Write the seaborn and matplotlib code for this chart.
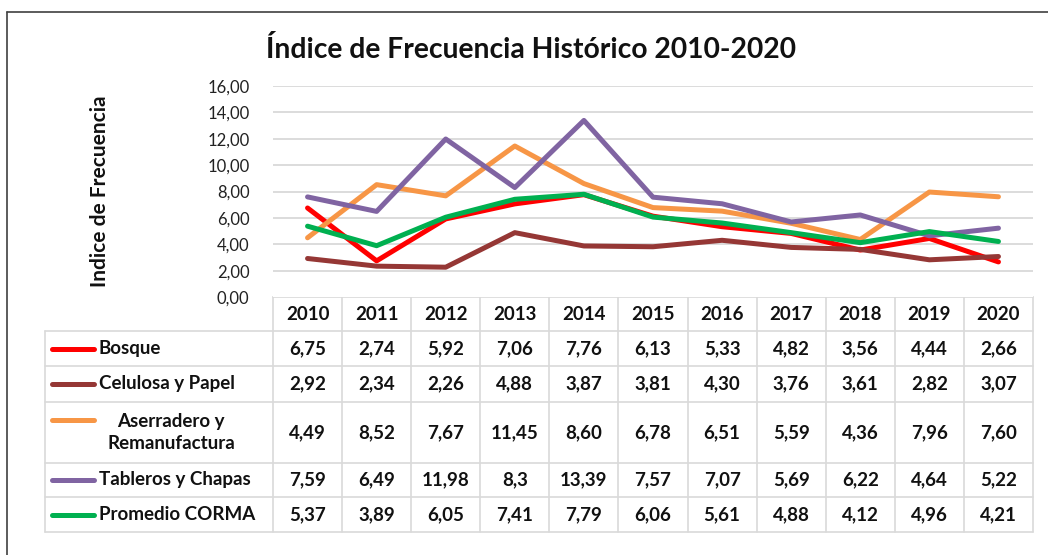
import matplotlib.pyplot as plt
import matplotlib.lines as mlines
import seaborn as sns
import pandas as pd

# ---------------------------------------------------------------------------
# Data
# ---------------------------------------------------------------------------
years = [2010, 2011, 2012, 2013, 2014, 2015, 2016, 2017, 2018, 2019, 2020]
series_names = ["Bosque", "Celulosa y Papel", "Aserradero y\nRemanufactura",
                "Tableros y Chapas", "Promedio CORMA"]
bosque = [6.75, 2.74, 5.92, 7.06, 7.76, 6.13, 5.33, 4.82, 3.56, 4.44, 2.66]
celulosa = [2.92, 2.34, 2.26, 4.88, 3.87, 3.81, 4.30, 3.76, 3.61, 2.82, 3.07]
aserradero = [4.49, 8.52, 7.67, 11.45, 8.60, 6.78, 6.51, 5.59, 4.36, 7.96, 7.60]
tableros = [7.59, 6.49, 11.98, 8.3, 13.39, 7.57, 7.07, 5.69, 6.22, 4.64, 5.22]
promedio = [5.37, 3.89, 6.05, 7.41, 7.79, 6.06, 5.61, 4.88, 4.12, 4.96, 4.21]
# how each value is printed in the data table (as in the source)
tableros_text = ["7,59", "6,49", "11,98", "8,3", "13,39", "7,57", "7,07",
                 "5,69", "6,22", "4,64", "5,22"]
y_ticks = [0, 2, 4, 6, 8, 10, 12, 14, 16]

colors = ["#FF0000", "#953735", "#F79646", "#8064A2", "#00B050"]
values = [bosque, celulosa, aserradero, tableros, promedio]

W, H = 1048, 555
FONT = ["Lato", "DejaVu Sans"]

sns.set_theme(style="white")
plt.rcParams["font.family"] = FONT


def fx(px):
    return px / W


def fy(py):
    return 1 - py / H


fig = plt.figure(figsize=(W / 100, H / 100), dpi=100)
fig.patch.set_facecolor("white")

# outer frame (left and top edges visible)
fig.add_artist(mlines.Line2D([fx(7), fx(7)], [fy(12), 0], color="#404040", lw=1.2))
fig.add_artist(mlines.Line2D([fx(7), 1], [fy(12), fy(12)], color="#404040", lw=1.2))

# ---------------------------------------------------------------------------
# Line chart
# ---------------------------------------------------------------------------
px_left, px_right, px_top, px_bottom = 273, 1033, 86, 297
ax = fig.add_axes([fx(px_left), fy(px_bottom), fx(px_right - px_left),
                   (px_bottom - px_top) / H])

rows = []
for name, vals in zip(series_names, values):
    for i, v in enumerate(vals):
        rows.append({"idx": i, "value": v, "serie": name})
df = pd.DataFrame(rows)

sns.lineplot(data=df, x="idx", y="value", hue="serie", palette=colors,
             hue_order=series_names, linewidth=3.6, legend=False, ax=ax,
             solid_capstyle="round")

ax.set_xlim(-0.5, len(years) - 0.5)
ax.set_ylim(0, 16)
ax.set_yticks(y_ticks)
ax.set_yticklabels([f"{t:.2f}".replace(".", ",") for t in y_ticks],
                   fontsize=12, color="#222222")
ax.tick_params(axis="y", length=0, pad=17)
ax.set_xticks([])
ax.set_xlabel("")
ax.set_ylabel("")
for s in ax.spines.values():
    s.set_visible(False)
for t in y_ticks[1:]:
    ax.axhline(t, color="#D9D9D9", lw=1.3, zorder=0)

fig.text(fx(100), fy(191), "Indice de Frecuencia", rotation=90, ha="center",
         va="center", fontsize=15, fontweight="bold", color="#111111")
fig.text(fx(531), fy(49), "Índice de Frecuencia Histórico 2010-2020",
         ha="center", va="center", fontsize=20.3, fontweight="bold",
         color="#111111")

# ---------------------------------------------------------------------------
# Data table (pixel coordinates)
# ---------------------------------------------------------------------------
tab = fig.add_axes([0, 0, 1, 1], zorder=-1)
tab.set_xlim(0, W)
tab.set_ylim(H, 0)
tab.axis("off")

col_w = (px_right - px_left) / len(years)
row_edges = [297, 331, 366, 402, 463, 497, 532]
lab_left = 45
grid_kw = dict(color="#D9D9D9", lw=1.2)

# horizontal lines
tab.plot([px_left, px_right], [row_edges[0], row_edges[0]], **grid_kw)
for yy in row_edges[1:]:
    tab.plot([lab_left, px_right], [yy, yy], **grid_kw)
# vertical lines
for i in range(len(years) + 1):
    xx = px_left + i * col_w
    tab.plot([xx, xx], [row_edges[0], row_edges[-1]], **grid_kw)
tab.plot([lab_left, lab_left], [row_edges[1], row_edges[-1]], **grid_kw)

FS = 13.5
txt_kw = dict(fontsize=FS, fontweight="bold", color="#111111",
              ha="center", va="center")
y_head = (row_edges[0] + row_edges[1]) / 2
for i, yr in enumerate(years):
    tab.text(px_left + (i + 0.5) * col_w, y_head, str(yr), **txt_kw)

for r, (name, vals, c) in enumerate(zip(series_names, values, colors)):
    yc = (row_edges[r + 1] + row_edges[r + 2]) / 2
    if name is series_names[3]:
        texts = tableros_text
    else:
        texts = [f"{v:.2f}".replace(".", ",") for v in vals]
    for i, t in enumerate(texts):
        tab.text(px_left + (i + 0.5) * col_w, yc, t, **txt_kw)
    if "\n" in name:
        key_y = yc - 13
        tab.text(171, yc, name, fontsize=FS, fontweight="bold",
                 color="#111111", ha="center", va="center", linespacing=1.3)
    else:
        key_y = yc
        tab.text(99, yc, name, fontsize=FS, fontweight="bold",
                 color="#111111", ha="left", va="center")
    tab.plot([52, 94], [key_y, key_y], color=c, lw=3.6, solid_capstyle="round")

fig.savefig("out.png", dpi=100, facecolor="white")
